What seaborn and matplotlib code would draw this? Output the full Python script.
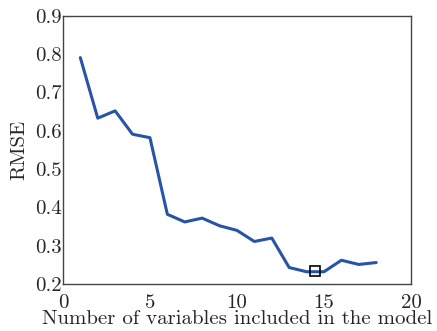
import numpy as np
import pandas as pd
import matplotlib
matplotlib.use("Agg")
import matplotlib.pyplot as plt
import seaborn as sns

n_vars = [1, 2, 3, 4, 5, 6, 7, 8, 9, 10, 11, 12, 13, 14, 15, 16, 17, 18]
rmse = [0.791, 0.633, 0.652, 0.591, 0.582, 0.382, 0.362, 0.372, 0.352, 0.340,
        0.311, 0.320, 0.243, 0.232, 0.232, 0.262, 0.251, 0.256]
best_x = [14.5]
best_y = [0.233]
x_ticks = [0, 5, 10, 15, 20]
y_ticks = [0.2, 0.3, 0.4, 0.5, 0.6, 0.7, 0.8, 0.9]

sns.set_style("white")
plt.rcParams['font.family'] = ['cmr10', 'DejaVu Serif']
plt.rcParams['axes.formatter.use_mathtext'] = True
plt.rcParams['mathtext.fontset'] = 'cm'

df = pd.DataFrame({"n": n_vars, "rmse": rmse})

fig = plt.figure(figsize=(4.37, 3.31), dpi=100)
ax = fig.add_axes([0.144, 0.142, 0.7965, 0.810])
sns.lineplot(data=df, x="n", y="rmse", ax=ax, color="#2754a6", linewidth=2.2)
ax.plot(best_x, best_y, marker="s", markersize=7, markerfacecolor="none",
        markeredgecolor="black", markeredgewidth=1.2, linestyle="none")

ax.set_xlim(0, 20)
ax.set_ylim(0.2, 0.9)
ax.set_xticks(x_ticks)
ax.set_yticks(y_ticks)
ax.set_xticklabels([str(t) for t in x_ticks])
ax.set_yticklabels([f"{t:.1f}" for t in y_ticks])
ax.tick_params(direction="in", length=3, width=0.6, color="#555555",
               labelsize=15)
ax.tick_params(axis="x", pad=7)
ax.tick_params(axis="y", pad=1)
for s in ax.spines.values():
    s.set_color("#444444")
    s.set_linewidth(1.0)
ax.set_xlabel("Number of variables included in the model", fontsize=15, labelpad=-1)
ax.set_ylabel("RMSE", fontsize=15, labelpad=5)

fig.savefig("out.png", dpi=100)
